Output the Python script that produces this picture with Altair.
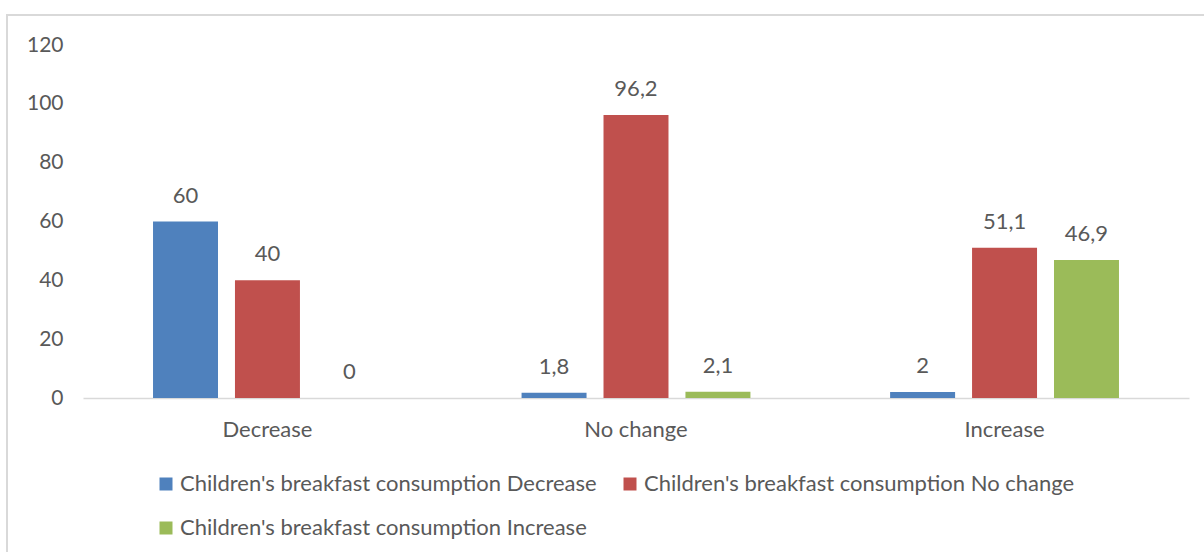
import altair as alt
import pandas as pd

categories = ["Decrease", "No change", "Increase"]
series = ["Children's breakfast consumption Decrease",
          "Children's breakfast consumption No change",
          "Children's breakfast consumption Increase"]
values_decrease = [60, 1.8, 2]
values_nochange = [40, 96.2, 51.1]
values_increase = [0, 2.1, 46.9]
colors = ["#4F81BD", "#C0504D", "#9BBB59"]
y_ticks = [0, 20, 40, 60, 80, 100, 120]

rows = []
for si, (s, vals) in enumerate(zip(series, [values_decrease, values_nochange, values_increase])):
    for c, v in zip(categories, vals):
        rows.append({"category": c, "series": s, "order": si, "value": v})
df = pd.DataFrame(rows)

W, H = 1106, 353
FONT = "Lato"
TXT = "#595959"

x = alt.X("category:N", sort=categories, title=None,
          scale=alt.Scale(paddingInner=0.379, paddingOuter=0.19),
          axis=alt.Axis(labelAngle=0, labelFont=FONT, labelFontSize=22, labelColor=TXT,
                        labelPadding=21, ticks=False, domainColor="#d9d9d9", domainWidth=1.5))
xo = alt.XOffset("series:N", sort=series, scale=alt.Scale(paddingInner=0.207, paddingOuter=0))
y = alt.Y("value:Q", title=None,
          scale=alt.Scale(domain=[0, 120], nice=False),
          axis=alt.Axis(values=y_ticks, grid=False, domain=False, ticks=False,
                        labelFont=FONT, labelFontSize=21, labelColor=TXT, labelPadding=20))

base = alt.Chart(df).encode(x=x, xOffset=xo, y=y)

bars = base.mark_bar().encode(
    color=alt.Color("series:N", title=None,
                    scale=alt.Scale(domain=series, range=colors),
                    legend=alt.Legend(orient="none", legendX=72, legendY=428, columns=2,
                                      direction="horizontal",
                                      symbolType="square", symbolSize=169, symbolStrokeWidth=0,
                                      labelFont=FONT, labelFontSize=22, labelColor=TXT,
                                      labelOffset=3, columnPadding=22, rowPadding=22,
                                      labelLimit=600, values=series))
)

labels = base.transform_calculate(
    label="replace(toString(datum.value), '.', ',')"
).mark_text(dy=-14, baseline="bottom", font=FONT, fontSize=22, color=TXT).encode(
    text="label:N"
)

frame = alt.Chart(df).mark_rect(fill=None, stroke="#d9d9d9", strokeWidth=2).encode(
    x=alt.value(-76), x2=alt.value(W + 60), y=alt.value(-30), y2=alt.value(H + 250)
)

chart = alt.layer(frame, bars, labels).properties(
    width=W, height=H,
    autosize=alt.AutoSizeParams(type="none"),
    padding={"left": 83, "top": 45, "right": 15, "bottom": 154},
    background="white"
).configure_view(stroke=None)

chart.save("out.html", embed_options={"renderer": "svg", "actions": False})
